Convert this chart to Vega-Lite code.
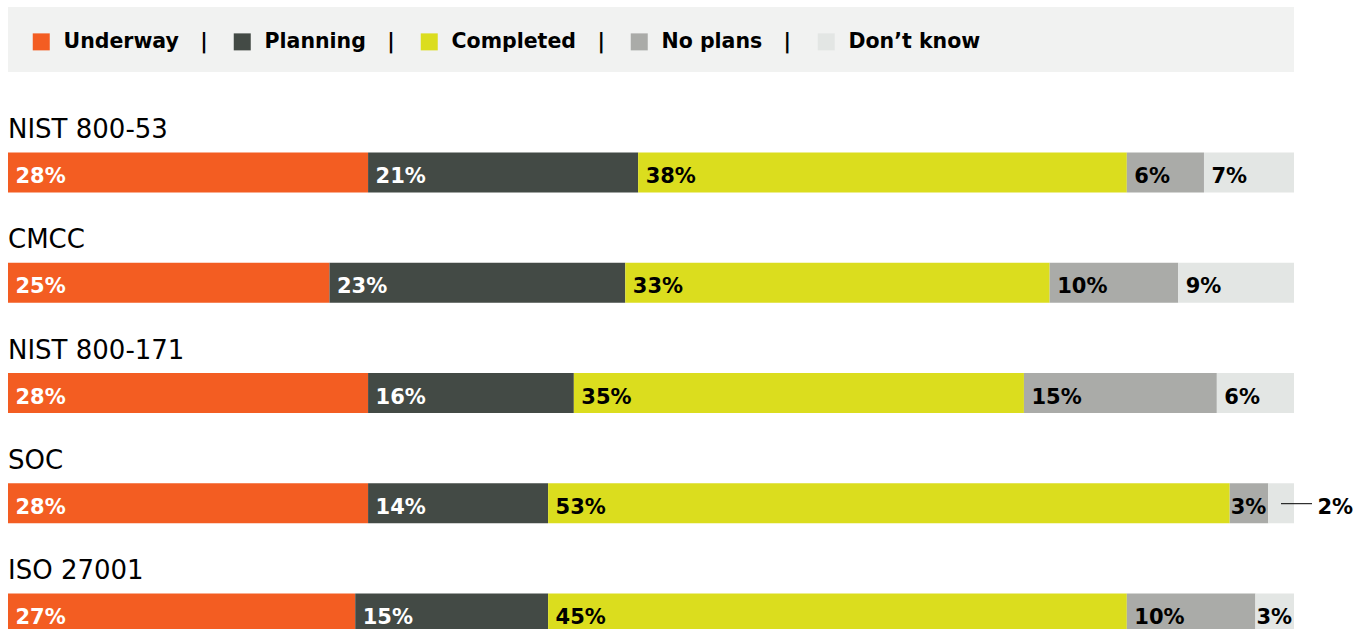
{
  "$schema": "https://vega.github.io/schema/vega-lite/v6.json",
  "padding": {"left": 8, "top": 7, "right": 0, "bottom": 0},
  "autosize": {"type": "pad"},
  "background": "#ffffff",
  "config": {"view": {"stroke": null}, "font": "DejaVu Sans"},
  "spacing": 45,
  "resolve": {"scale": {"color": "independent"}, "legend": {"color": "independent"}},
  "vconcat": [
    {
      "width": 1286,
      "height": 65,
      "view": {"fill": "#f1f2f1", "stroke": null},
      "data": {"values": [
        {"status": "Underway"},
        {"status": "Planning"},
        {"status": "Completed"},
        {"status": "No plans"},
        {"status": "Don’t know"}
      ]},
      "mark": {"type": "point", "shape": "square", "filled": true, "opacity": 0},
      "encoding": {
        "color": {"field": "status", "type": "nominal",
          "scale": {"domain": ["Underway", "Planning", "Completed", "No plans", "Don’t know"],
                    "range": ["#f35d22", "#434a45", "#dbdd1e", "#aaaba8", "#e3e6e4"]},
          "legend": {
            "orient": "none", "legendX": 23, "legendY": 24.5, "direction": "horizontal", "title": null,
            "padding": 0, "symbolType": "square", "symbolSize": 289, "symbolOpacity": 1, "symbolStrokeWidth": 0,
            "labelFont": "DejaVu Sans", "labelFontWeight": "bold", "labelFontSize": 20.5, "labelColor": "#000000",
            "labelOffset": 12, "labelLimit": 400, "columnPadding": 24,
            "labelExpr": "datum.label == 'Don’t know' ? datum.label : datum.label + '\u00a0\u00a0\u00a0|'"
          }
        }
      }
    },
    {
      "width": 1286,
      "height": 551,
      "data": {"values": [
        {"item": "NIST 800-53", "status": "Underway", "value": 0.28},
        {"item": "NIST 800-53", "status": "Planning", "value": 0.21},
        {"item": "NIST 800-53", "status": "Completed", "value": 0.38},
        {"item": "NIST 800-53", "status": "No plans", "value": 0.06},
        {"item": "NIST 800-53", "status": "Don’t know", "value": 0.07},
        {"item": "CMCC", "status": "Underway", "value": 0.25},
        {"item": "CMCC", "status": "Planning", "value": 0.23},
        {"item": "CMCC", "status": "Completed", "value": 0.33},
        {"item": "CMCC", "status": "No plans", "value": 0.10},
        {"item": "CMCC", "status": "Don’t know", "value": 0.09},
        {"item": "NIST 800-171", "status": "Underway", "value": 0.28},
        {"item": "NIST 800-171", "status": "Planning", "value": 0.16},
        {"item": "NIST 800-171", "status": "Completed", "value": 0.35},
        {"item": "NIST 800-171", "status": "No plans", "value": 0.15},
        {"item": "NIST 800-171", "status": "Don’t know", "value": 0.06},
        {"item": "SOC", "status": "Underway", "value": 0.28},
        {"item": "SOC", "status": "Planning", "value": 0.14},
        {"item": "SOC", "status": "Completed", "value": 0.53},
        {"item": "SOC", "status": "No plans", "value": 0.03},
        {"item": "SOC", "status": "Don’t know", "value": 0.02},
        {"item": "ISO 27001", "status": "Underway", "value": 0.27},
        {"item": "ISO 27001", "status": "Planning", "value": 0.15},
        {"item": "ISO 27001", "status": "Completed", "value": 0.45},
        {"item": "ISO 27001", "status": "No plans", "value": 0.10},
        {"item": "ISO 27001", "status": "Don’t know", "value": 0.03}
      ]},
      "transform": [
        {"stack": "value", "groupby": ["item"], "as": ["x0", "x1"]}
      ],
      "encoding": {
        "y": {"field": "item", "type": "nominal", "sort": null,
              "scale": {"paddingInner": 0, "paddingOuter": 0}, "axis": null}
      },
      "layer": [
        {
          "mark": {"type": "bar", "height": 40, "yOffset": -0.5},
          "encoding": {
            "x": {"field": "x0", "type": "quantitative", "scale": {"domain": [0, 1], "nice": false}, "axis": null},
            "x2": {"field": "x1"},
            "color": {"field": "status", "type": "nominal",
              "scale": {"domain": ["Underway", "Planning", "Completed", "No plans", "Don’t know"],
                        "range": ["#f35d22", "#434a45", "#dbdd1e", "#aaaba8", "#e3e6e4"]},
              "legend": null}
          }
        },
        {
          "transform": [{"filter": "datum.status == 'Underway'"}],
          "mark": {"type": "text", "align": "left", "baseline": "alphabetic", "dy": -35, "fontSize": 26, "font": "DejaVu Sans", "color": "#000000"},
          "encoding": {
            "x": {"datum": 0, "type": "quantitative"},
            "text": {"field": "item"}
          }
        },
        {
          "transform": [{"filter": "datum.value >= 0.05"}],
          "mark": {"type": "text", "align": "left", "baseline": "alphabetic", "dx": 7.5, "dy": 10, "fontSize": 21, "fontWeight": "bold", "font": "DejaVu Sans"},
          "encoding": {
            "x": {"field": "x0", "type": "quantitative"},
            "text": {"field": "value", "type": "quantitative", "format": ".0%"},
            "color": {"condition": {"test": "datum.status == 'Underway' || datum.status == 'Planning'", "value": "#ffffff"}, "value": "#000000"}
          }
        },
        {
          "transform": [{"filter": "datum.value >= 0.025 && datum.value < 0.05"}],
          "mark": {"type": "text", "align": "left", "baseline": "alphabetic", "dx": 1, "dy": 10, "fontSize": 21, "fontWeight": "bold", "font": "DejaVu Sans", "color": "#000000"},
          "encoding": {
            "x": {"field": "x0", "type": "quantitative"},
            "text": {"field": "value", "type": "quantitative", "format": ".0%"}
          }
        },
        {
          "transform": [{"filter": "datum.value < 0.025"}],
          "mark": {"type": "rule", "color": "#000000", "strokeWidth": 1, "xOffset": -13, "x2Offset": 18},
          "encoding": {
            "x": {"field": "x1", "type": "quantitative"},
            "x2": {"field": "x1"}
          }
        },
        {
          "transform": [{"filter": "datum.value < 0.025"}],
          "mark": {"type": "text", "align": "left", "baseline": "alphabetic", "dx": 23.5, "dy": 10, "fontSize": 21, "fontWeight": "bold", "font": "DejaVu Sans", "color": "#000000"},
          "encoding": {
            "x": {"field": "x1", "type": "quantitative"},
            "text": {"field": "value", "type": "quantitative", "format": ".0%"}
          }
        }
      ]
    }
  ]
}
